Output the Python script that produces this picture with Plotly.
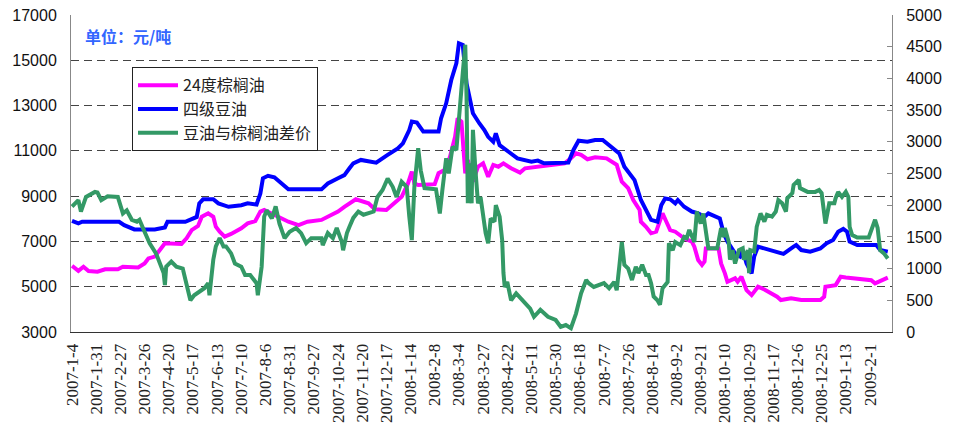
import plotly.graph_objects as go

# Category axis: trading-day number, labelled every 19 days
tick_labels = [
    "2007-1-4", "2007-1-31", "2007-2-27", "2007-3-26", "2007-4-20", "2007-5-17",
    "2007-6-13", "2007-7-10", "2007-8-6", "2007-8-31", "2007-9-27", "2007-10-24",
    "2007-11-20", "2007-12-17", "2008-1-14", "2008-2-8", "2008-3-4", "2008-3-27",
    "2008-4-22", "2008-5-11", "2008-5-30", "2008-6-18", "2008-7-7", "2008-7-26",
    "2008-8-14", "2008-9-2", "2008-9-21", "2008-10-10", "2008-10-29", "2008-11-17",
    "2008-12-6", "2008-12-25", "2009-1-13", "2009-2-1",
]
label_step = 19
last_day = 641

# 24度棕榈油 (元/吨)
palm_day = [0, 5, 9, 13, 20, 26, 36, 40, 52, 57, 60, 65, 69, 73, 86, 90, 94, 99, 102, 107,
            111, 113, 116, 120, 125, 133, 138, 144, 148, 151, 162, 170, 178, 185, 196, 201,
            209, 214, 221, 223, 233, 238, 247, 259, 264, 267, 269, 272, 285, 288, 293, 297,
            301, 303, 306, 309, 311, 315, 319, 323, 327, 331, 335, 339, 345, 352, 356, 366,
            371, 387, 392, 396, 400, 405, 411, 420, 428, 432, 437, 441, 446, 447, 451, 455,
            459, 462, 464, 467, 470, 474, 478, 481, 487, 489, 492, 495, 497, 498, 508, 510,
            513, 515, 521, 523, 526, 530, 534, 539, 544, 554, 557, 565, 573, 588, 591, 592,
            600, 604, 608, 628, 631, 635, 641]
palm_price = [5920, 5700, 5880, 5690, 5660, 5770, 5770, 5880, 5850, 6030, 6250, 6330, 6620, 6920,
              6890, 7140, 7500, 7680, 8090, 8240, 8090, 7650, 7430, 7210, 7330, 7580, 7800, 7900,
              8320, 8390, 8090, 7870, 7720, 7870, 7950, 8090, 8320, 8530, 8750, 8860, 8680, 8420,
              8390, 8970, 9560, 10080, 9560, 9490, 9530, 10010, 10160, 10740, 11620, 12440, 12290,
              10010, 10600, 9640, 10300, 10450, 9860, 10380, 10300, 10450, 10230, 10040, 10230,
              10300, 10330, 10450, 10670, 10890, 10820, 10630, 10720, 10670, 10380, 9640, 9350,
              8830, 8390, 7870, 7650, 7360, 7430, 7870, 8240, 7870, 7500, 7430, 7280, 7140, 6990,
              6770, 6180, 5960, 6110, 6690, 6690, 6030, 5590, 5220, 5370, 5220, 5440, 4850, 4630,
              5000, 4880, 4560, 4410, 4490, 4410, 4410, 4560, 5000, 5070, 5440, 5410, 5290, 5150,
              5260, 5400]

# 四级豆油 (元/吨)
soy_day = [0, 5, 8, 37, 41, 49, 65, 73, 75, 89, 98, 100, 103, 111, 115, 123, 133, 138, 145,
           148, 150, 154, 159, 163, 170, 196, 201, 209, 214, 218, 221, 227, 239, 248, 256, 260,
           265, 267, 271, 276, 288, 290, 294, 298, 302, 304, 307, 310, 312, 315, 320, 324, 327,
           331, 333, 336, 343, 350, 361, 366, 371, 390, 394, 398, 405, 411, 417, 424, 430, 434,
           440, 442, 447, 451, 455, 460, 463, 466, 470, 474, 476, 481, 487, 492, 497, 500, 509,
           512, 515, 521, 525, 527, 530, 534, 536, 539, 544, 548, 559, 567, 569, 573, 580, 588,
           593, 598, 602, 606, 609, 611, 617, 632, 635, 641]
soy_price = [7910, 7800, 7870, 7870, 7720, 7530, 7530, 7620, 7870, 7870, 8080, 8680, 8860, 8860,
             8680, 8530, 8600, 8680, 8630, 9120, 9790, 9900, 9830, 9640, 9300, 9300, 9560, 9790,
             9930, 10230, 10450, 10600, 10480, 10820, 11110, 11330, 11920, 12290, 12250, 11850,
             11850, 12440, 13100, 14130, 14870, 15750, 15680, 13980, 13470, 12660, 12220, 11920,
             11620, 11400, 11770, 11250, 10960, 10670, 10520, 10570, 10450, 10480, 11040, 11450,
             11400, 11480, 11480, 11180, 10890, 10300, 9860, 9710, 8830, 8390, 7950, 7870, 8600,
             8900, 8860, 8680, 8830, 8530, 8320, 8240, 8090, 8240, 8020, 7360, 6990, 6470, 6330,
             6620, 6030, 5590, 6330, 6770, 6690, 6620, 6450, 6770, 6840, 6620, 6550, 6690, 6920,
             7060, 7430, 7550, 7430, 6990, 6840, 6840, 6620, 6550]

# 豆油与棕榈油差价 (元/吨, right axis)
spread_day = [0, 2, 5, 7, 11, 18, 20, 23, 28, 36, 38, 40, 43, 47, 51, 53, 57, 61, 66, 72, 73,
              74, 78, 82, 87, 90, 93, 96, 100, 104, 107, 108, 111, 113, 116, 119, 121, 125, 128,
              133, 136, 140, 145, 146, 149, 151, 153, 157, 160, 163, 167, 171, 176, 180, 184,
              188, 196, 197, 201, 205, 208, 212, 213, 216, 218, 221, 225, 229, 237, 240, 244,
              248, 252, 255, 259, 263, 265, 267, 269, 272, 274, 277, 286, 289, 291, 294, 296,
              299, 302, 304, 307, 309, 310, 311, 312, 314, 315, 317, 319, 321, 325, 327, 329,
              332, 333, 336, 338, 339, 340, 342, 345, 349, 353, 357, 360, 363, 368, 374, 380,
              384, 388, 392, 396, 400, 404, 406, 410, 418, 422, 426, 428, 430, 432, 434, 437,
              440, 443, 445, 448, 451, 453, 455, 457, 460, 462, 464, 468, 469, 472, 474, 478,
              481, 483, 485, 489, 491, 494, 496, 498, 500, 507, 510, 512, 513, 516, 517, 519,
              521, 524, 527, 528, 531, 532, 533, 536, 538, 541, 544, 546, 550, 553, 555, 558,
              561, 562, 566, 567, 571, 572, 578, 584, 587, 589, 591, 592, 595, 599, 600, 602,
              605, 608, 610, 611, 613, 617, 626, 629, 631, 633, 635, 638, 641]
spread_value = [1980, 2030, 2080, 1900, 2130, 2210, 2200, 2080, 2140, 2130, 1980, 1870, 1920,
                1770, 1740, 1770, 1580, 1400, 1240, 930, 740, 1030, 1110, 1030, 1000, 770, 500,
                580, 640, 690, 770, 580, 1140, 1350, 1480, 1350, 1350, 1240, 1080, 1030, 900,
                900, 770, 580, 1030, 1820, 1920, 1790, 1980, 1710, 1480, 1580, 1640, 1560, 1400,
                1480, 1480, 1370, 1560, 1480, 1640, 1420, 1290, 1560, 1660, 1800, 1900, 1850,
                1900, 2130, 2240, 2420, 2290, 2130, 2370, 2290, 1820, 1450, 2290, 2900, 2550,
                2270, 2250, 1870, 2240, 2740, 2500, 2920, 2870, 3290, 4080, 4530, 3710, 2030,
                2660, 2030, 3190, 2550, 2030, 2130, 1560, 1400, 1790, 1740, 2000, 1820, 1450, 930,
                710, 790, 500, 610, 530, 450, 370, 240, 350, 240, 190, 80, 110, 60, 290, 610, 820,
                770, 710, 770, 690, 790, 660, 1030, 1420, 1060, 1000, 820, 1030, 930, 1060, 900,
                900, 770, 560, 500, 430, 690, 790, 1400, 1290, 1420, 1370, 1500, 1480, 1610, 1420,
                1900, 1710, 1870, 1610, 1320, 1320, 1640, 1500, 1640, 1420, 1140, 1290, 1080,
                1290, 1320, 1140, 1290, 930, 1290, 1270, 1660, 1870, 1740, 1850, 1820, 1900, 2080,
                2030, 1900, 2110, 2190, 2320, 2400, 2270, 2210, 2210, 2240, 2190, 1820, 1710, 2030,
                2030, 2110, 2210, 2130, 2210, 2130, 1660, 1530, 1490, 1490, 1640, 1770, 1640, 1290,
                1240, 1160]

series_names = ["24度棕榈油", "四级豆油", "豆油与棕榈油差价"]
unit_text = "单位：元/吨"

num_font = "Liberation Sans, Arial, sans-serif"
cjk_font = "Noto Sans CJK SC, sans-serif"

fig = go.Figure()
fig.add_trace(go.Scatter(x=palm_day, y=palm_price, name=series_names[0], mode="lines",
                         line=dict(color="#FF00FF", width=4)))
fig.add_trace(go.Scatter(x=soy_day, y=soy_price, name=series_names[1], mode="lines",
                         line=dict(color="#0000FF", width=4)))
fig.add_trace(go.Scatter(x=spread_day, y=spread_value, name=series_names[2], mode="lines",
                         line=dict(color="#339966", width=4), yaxis="y2"))

fig.update_layout(
    width=954, height=425,
    margin=dict(l=71, r=62, t=15, b=93),
    paper_bgcolor="white", plot_bgcolor="white",
    showlegend=True,
    legend=dict(x=0.0743, y=0.835, xanchor="left", yanchor="top",
                bgcolor="white", bordercolor="#222", borderwidth=1,
                font=dict(family=cjk_font, size=16, color="#222"),
                tracegroupgap=0, itemwidth=40),
    xaxis=dict(
        range=[-0.8, last_day + 3.3],
        tickmode="array",
        tickvals=[i * label_step for i in range(len(tick_labels))],
        ticktext=tick_labels,
        tickangle=-90,
        tickfont=dict(family="Liberation Serif, serif", size=17, color="#222"),
        showgrid=False, zeroline=False,
        showline=True, linecolor="#333", linewidth=1,
        ticks="", ticklabelstandoff=4, automargin=False,
    ),
    yaxis=dict(
        range=[3000, 17000], dtick=2000, tick0=3000, tickformat="d",
        tickfont=dict(family=num_font, size=16, color="#111"),
        showgrid=True, gridcolor="#444", gridwidth=1, griddash="8px,5px",
        zeroline=False, showline=True, linecolor="#888", linewidth=1,
        ticks="", ticklabelstandoff=10, automargin=False,
    ),
    yaxis2=dict(
        range=[0, 5000], dtick=500, tick0=0, tickformat="d",
        overlaying="y", side="right",
        tickfont=dict(family=num_font, size=16, color="#111"),
        showgrid=False, zeroline=False,
        showline=True, linecolor="#888", linewidth=1,
        ticks="inside", ticklen=5, tickcolor="#888", ticklabelstandoff=10,
        automargin=False,
    ),
    annotations=[dict(
        text="<b>" + unit_text + "</b>", xref="paper", yref="paper",
        x=0.015, y=0.935, xanchor="left", yanchor="middle", showarrow=False,
        font=dict(family=cjk_font, size=16, color="#3366FF"),
    )],
)

fig.write_html("out.html")
